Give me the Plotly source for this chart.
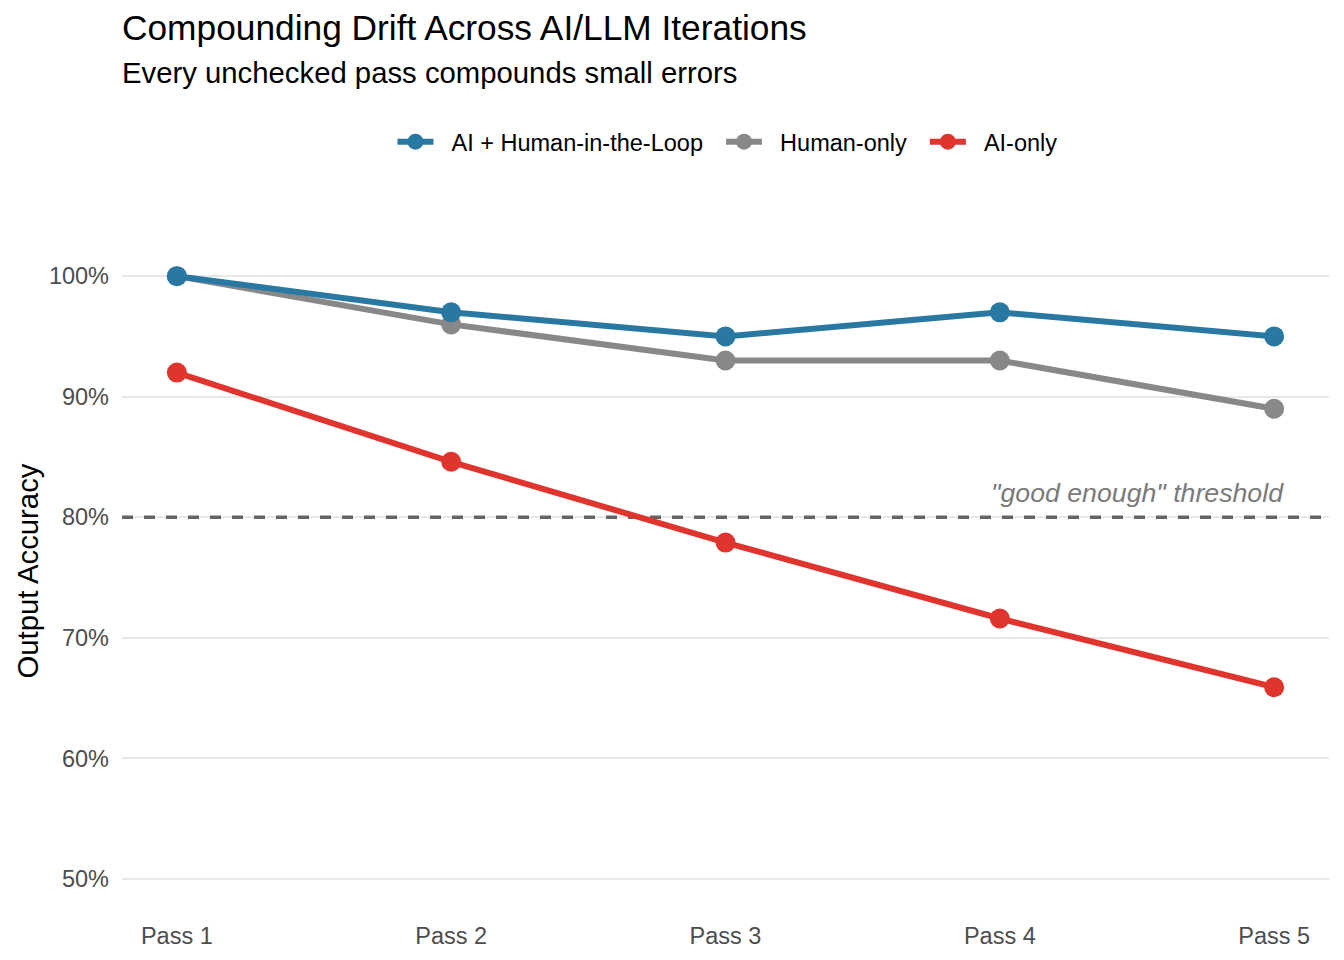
import plotly.graph_objects as go

passes = ["Pass 1", "Pass 2", "Pass 3", "Pass 4", "Pass 5"]
ai_hitl = [100, 97, 95, 97, 95]
human_only = [100, 96, 93, 93, 89]
ai_only = [92, 84.6, 77.9, 71.6, 65.9]
threshold = 80
y_ticks = [50, 60, 70, 80, 90, 100]

FONT = "Liberation Sans, Arial, Helvetica, sans-serif"
BLUE = "#2878a1"
GRAY = "#888888"
RED = "#e0352f"
NB = "\u00a0"

xs = list(range(1, len(passes) + 1))
x_range = [xs[0] - 0.2, xs[-1] + 0.2]

fig = go.Figure()

# threshold line drawn as a trace so it sits above gridlines but under the series
fig.add_trace(go.Scatter(
    x=x_range, y=[threshold, threshold], mode="lines", showlegend=False, hoverinfo="skip",
    line=dict(color="#646464", width=3.5, dash="11px,11px"),
))

series = [
    ("Human-only", human_only, GRAY, 2),
    ("AI + Human-in-the-Loop", ai_hitl, BLUE, 1),
    ("AI-only", ai_only, RED, 3),
]
for name, vals, col, rank in series:
    fig.add_trace(go.Scatter(
        x=xs, y=vals, name=NB * 2 + name + NB * 2, mode="lines+markers",
        line=dict(color=col, width=6),
        marker=dict(color=col, size=20),
        legendrank=rank,
    ))

fig.add_annotation(x=5.045, y=threshold, xref="x", yref="y", xanchor="right", yanchor="bottom",
                   yshift=7, text="<i>\"good enough\" threshold</i>", showarrow=False,
                   font=dict(family=FONT, size=26.7, color="#7a7a7a"))

fig.add_annotation(x=-0.002, y=1.3198, xref="paper", yref="paper", xanchor="left", yanchor="middle",
                   text="Compounding Drift Across AI/LLM Iterations", showarrow=False,
                   font=dict(family=FONT, size=35.3, color="#000000"))
fig.add_annotation(x=-0.002, y=1.2519, xref="paper", yref="paper", xanchor="left", yanchor="middle",
                   text="Every unchecked pass compounds small errors", showarrow=False,
                   font=dict(family=FONT, size=29.3, color="#000000"))
fig.add_annotation(x=-0.0787, y=0.5, xref="paper", yref="paper", xanchor="center", yanchor="middle",
                   text="Output Accuracy", textangle=-90, showarrow=False,
                   font=dict(family=FONT, size=29.3, color="#000000"))

fig.update_layout(
    width=1344, height=960,
    margin=dict(l=114, r=23, t=232, b=65),
    paper_bgcolor="white", plot_bgcolor="white",
    font=dict(family=FONT),
    showlegend=True,
    legend=dict(orientation="h", x=0.507, xanchor="center", y=1.148, yanchor="middle",
                font=dict(family=FONT, size=23.5, color="#000000"), itemwidth=36),
    xaxis=dict(range=x_range, tickvals=xs, ticktext=passes, showgrid=False, zeroline=False,
               showline=False, ticks="", tickfont=dict(family=FONT, size=23.5, color="#4d4d4d"),
               ticklabelstandoff=16),
    yaxis=dict(range=[48, 103], tickvals=y_ticks, ticktext=[f"{v}%" for v in y_ticks],
               showgrid=True, gridcolor="#e8e8e8", gridwidth=2, zeroline=False, showline=False,
               ticks="", tickfont=dict(family=FONT, size=23.5, color="#4d4d4d"),
               ticklabelstandoff=12),
)

fig.write_html("out.html")
